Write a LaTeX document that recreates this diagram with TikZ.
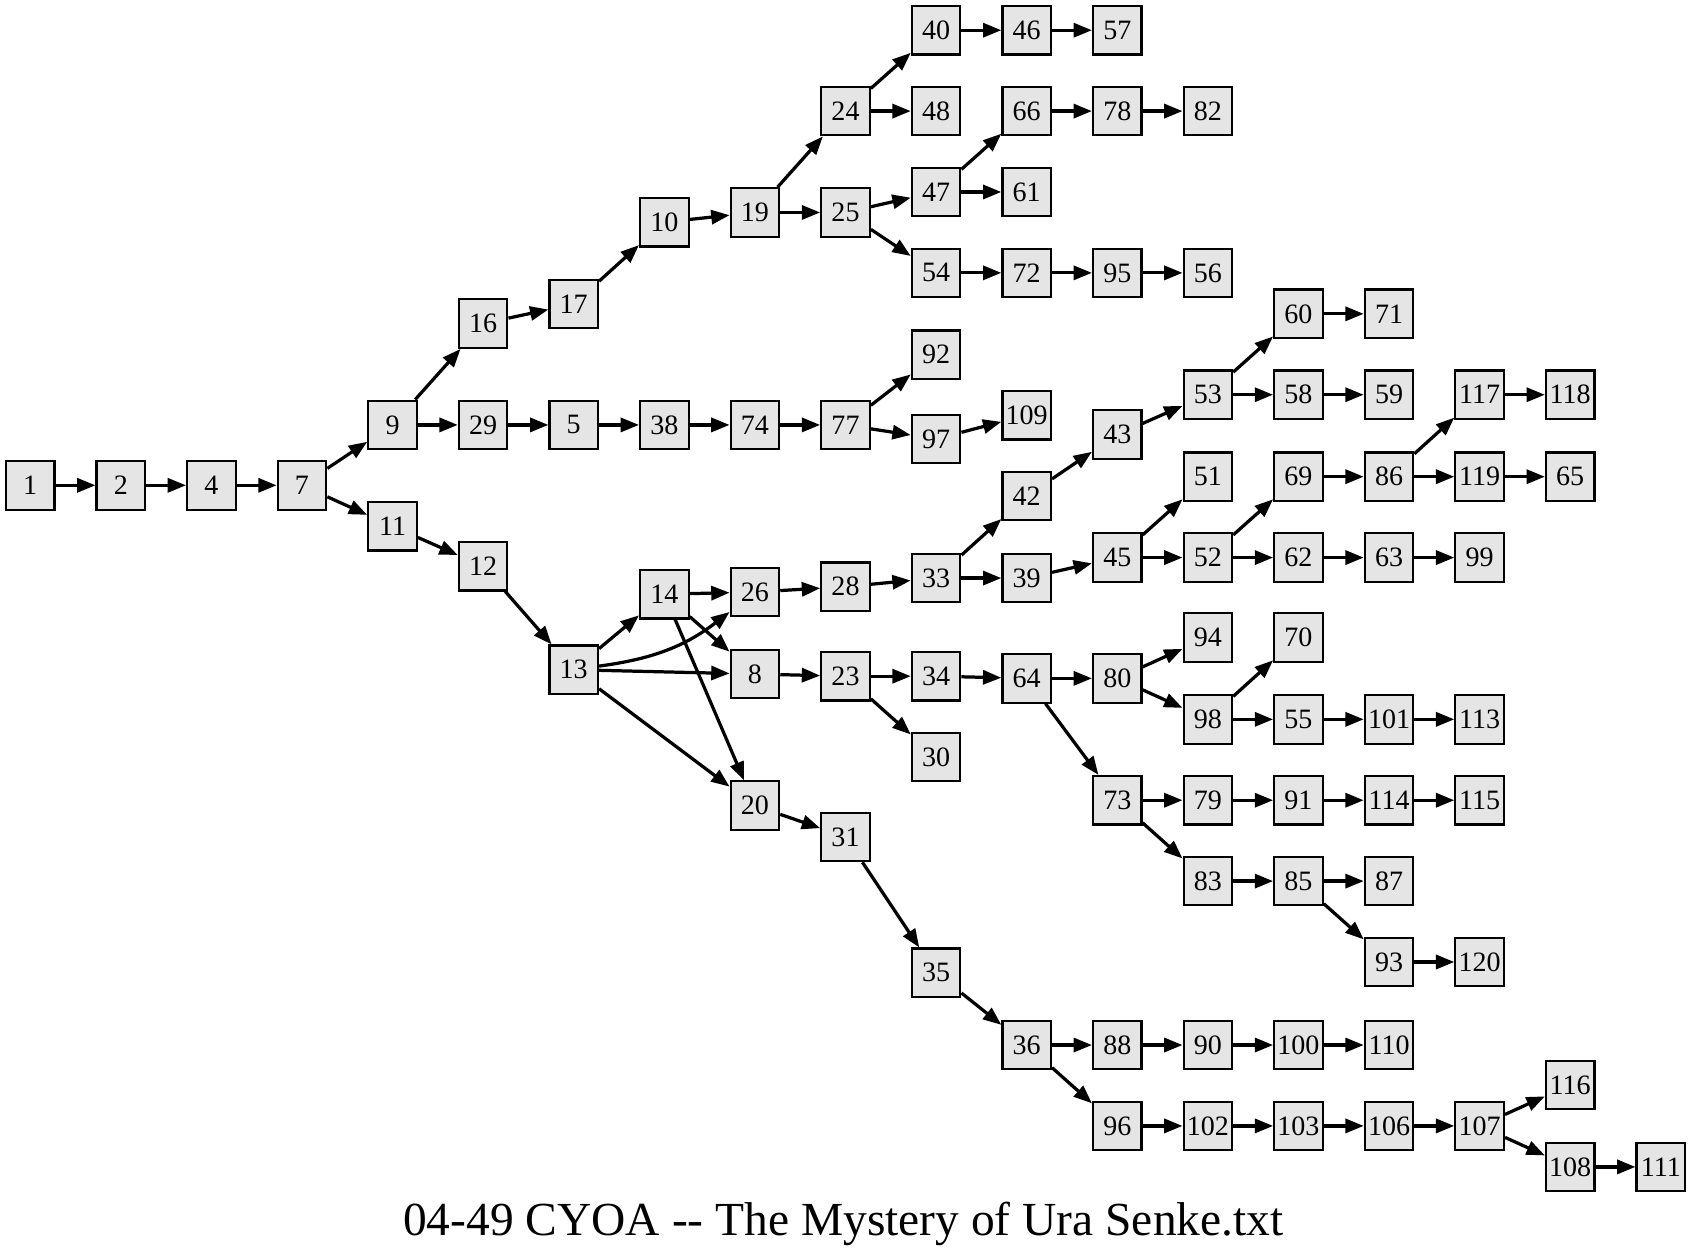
\documentclass[tikz,border=0pt]{standalone}
\usepackage{fontspec}
\setmainfont{Liberation Serif}
\usetikzlibrary{arrows.meta}
\definecolor{nodefill}{HTML}{E5E5E5}
\begin{document}
\begin{tikzpicture}[x=0.5pt,y=-0.5pt,
  nd/.style={draw, line width=1pt, fill=nodefill, minimum width=22.5pt, minimum height=22.5pt, inner sep=0pt, font=\fontsize{13}{13}\selectfont},
  ed/.style={-{Triangle[length=8.5pt,width=6.5pt]}, line width=1.5pt}]
\useasboundingbox (0,0) rectangle (1568,1164);
\fill[white] (0,0) rectangle (1568,1164);
\foreach \n/\x/\y in {
 1/28/450, 2/112/450, 4/196/450, 7/280/450,
 9/364/394, 11/364/488,
 16/448/300, 29/448/394, 12/448/525,
 17/532/282, 5/532/394, 13/532/621,
 10/616/206, 38/616/394, 14/616/551,
 19/700/197, 74/700/394, 26/700/549, 8/700/625, 20/700/747,
 24/784/103, 25/784/197, 77/784/394, 28/784/544, 23/784/627, 31/784/776,
 40/868/28, 48/868/103, 47/868/178, 54/868/253, 92/868/329, 97/868/407, 33/868/536, 34/868/627, 30/868/702, 35/868/902,
 46/952/28, 66/952/103, 61/952/178, 72/952/253, 109/952/385, 42/952/460, 39/952/536, 64/952/629, 36/952/969,
 57/1036/28, 78/1036/103, 95/1036/253, 43/1036/403, 45/1036/517, 80/1036/629, 73/1036/742, 88/1036/969, 96/1036/1044,
 82/1120/103, 56/1120/253, 53/1120/366, 51/1120/442, 52/1120/517, 94/1120/591, 98/1120/667, 79/1120/742, 83/1120/817, 90/1120/969, 102/1120/1044,
 60/1204/291, 58/1204/366, 69/1204/442, 62/1204/517, 70/1204/591, 55/1204/667, 91/1204/742, 85/1204/817, 100/1204/969, 103/1204/1044,
 71/1288/291, 59/1288/366, 86/1288/442, 63/1288/517, 101/1288/667, 114/1288/742, 87/1288/817, 93/1288/892, 110/1288/969, 106/1288/1044,
 117/1372/366, 119/1372/442, 99/1372/517, 113/1372/667, 115/1372/742, 120/1372/892, 107/1372/1044,
 118/1456/366, 65/1456/442, 116/1456/1006, 108/1456/1082,
 111/1540/1082}
  \node[nd] (n\n) at (\x,\y) {\n};
\foreach \a/\b in {
 1/2, 2/4, 4/7, 7/9, 7/11, 9/16, 9/29, 16/17, 17/10, 10/19, 19/24, 19/25,
 24/40, 24/48, 40/46, 46/57, 25/47, 25/54, 47/66, 47/61, 66/78, 78/82,
 54/72, 72/95, 95/56, 29/5, 5/38, 38/74, 74/77, 77/92, 77/97, 97/109,
 11/12, 12/13, 13/14, 13/8, 13/20, 14/26, 14/8, 14/20, 26/28, 28/33,
 33/42, 33/39, 42/43, 43/53, 53/60, 53/58, 60/71, 58/59, 39/45, 45/51,
 45/52, 52/69, 52/62, 69/86, 86/117, 86/119, 117/118, 119/65, 62/63, 63/99,
 8/23, 23/34, 23/30, 34/64, 64/80, 64/73, 80/94, 80/98, 98/70, 98/55,
 55/101, 101/113, 73/79, 73/83, 79/91, 91/114, 114/115, 83/85, 85/87, 85/93,
 93/120, 20/31, 31/35, 35/36, 36/88, 36/96, 88/90, 90/100, 100/110, 96/102,
 102/103, 103/106, 106/107, 107/116, 107/108, 108/111}
  \draw[ed] (n\a) -- (n\b);
\draw[ed] (n13) to[bend right=15] (n26);
\node[anchor=base, font=\fontsize{22}{22}\selectfont] (title) at (782,1146) {04-49 CYOA -\kern0pt- The Mystery of Ura Senke.txt};
\end{tikzpicture}
\end{document}
